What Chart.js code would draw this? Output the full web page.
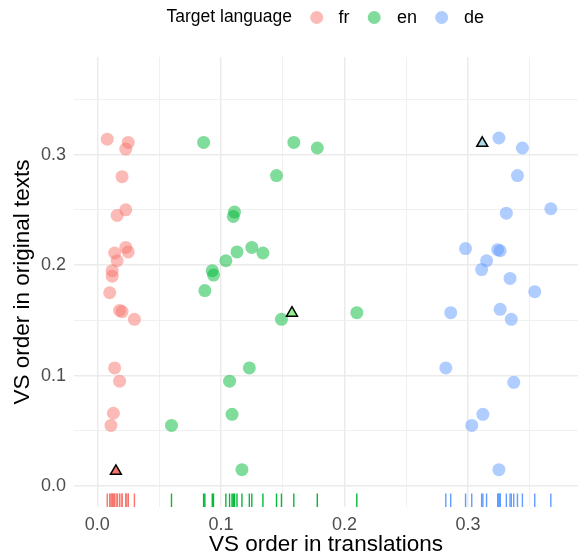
<!DOCTYPE html>
<html>
<head>
<meta charset="utf-8">
<script src="https://cdn.jsdelivr.net/npm/chart.js@4/dist/chart.umd.min.js"></script>
<style>
html, body { margin: 0; padding: 0; background: #ffffff; }
#wrap { width: 578px; height: 558px; }
</style>
</head>
<body>
<div id="wrap"><canvas id="c" width="578" height="558"></canvas></div>
<script>
// ---- data ----
const languages = ["fr", "en", "de"];
const legendTitle = "Target language";
const xTitle = "VS order in translations";
const yTitle = "VS order in original texts";
const tickLabels = ["0.0", "0.1", "0.2", "0.3"];

const frX = [0.008, 0.025, 0.023, 0.020, 0.023, 0.016, 0.023, 0.025, 0.014, 0.016, 0.012, 0.012, 0.010, 0.018, 0.020, 0.030, 0.014, 0.018, 0.013, 0.011];
const frY = [0.314, 0.311, 0.305, 0.280, 0.250, 0.245, 0.216, 0.212, 0.211, 0.204, 0.195, 0.190, 0.175, 0.159, 0.158, 0.151, 0.107, 0.095, 0.066, 0.055];

const enX = [0.086, 0.159, 0.178, 0.145, 0.111, 0.110, 0.113, 0.125, 0.134, 0.104, 0.093, 0.094, 0.087, 0.149, 0.210, 0.123, 0.107, 0.109, 0.060, 0.117];
const enY = [0.311, 0.311, 0.306, 0.281, 0.248, 0.244, 0.212, 0.216, 0.211, 0.204, 0.195, 0.191, 0.177, 0.151, 0.157, 0.107, 0.095, 0.065, 0.055, 0.015];

const deX = [0.325, 0.344, 0.340, 0.367, 0.331, 0.298, 0.324, 0.326, 0.315, 0.311, 0.334, 0.354, 0.286, 0.326, 0.335, 0.282, 0.337, 0.312, 0.303, 0.325];
const deY = [0.315, 0.306, 0.281, 0.251, 0.247, 0.215, 0.214, 0.213, 0.204, 0.196, 0.188, 0.176, 0.157, 0.160, 0.151, 0.107, 0.094, 0.065, 0.055, 0.015];

// highlighted (triangle) points per language
const markX = [0.015, 0.1575, 0.3115];
const markY = [0.0136, 0.1567, 0.3104];

// ---- styling ----
const colors = ["#F8766D", "#00BA38", "#619CFF"];
const pointFill = ["rgba(248,118,109,0.5)", "rgba(0,186,56,0.5)", "rgba(97,156,255,0.5)"];
const markFill = ["#F8766D", "#90EE90", "#ADD8E6"];
const FONT = "'Liberation Sans', Arial, Helvetica, sans-serif";

const X_MIN = -0.0189, X_MAX = 0.389;
const Y_MIN = -0.0188, Y_MAX = 0.3883;

const seriesX = [frX, enX, deX];
const seriesY = [frY, enY, deY];

const datasets = [];
// triangles (on top)
languages.forEach((lang, i) => {
  datasets.push({
    label: lang + " mark",
    data: [{x: markX[i], y: markY[i]}],
    pointStyle: 'triangle',
    pointRadius: 6.3,
    backgroundColor: markFill[i],
    borderColor: "#000000",
    borderWidth: 1.5,
    order: 0
  });
});
// points
languages.forEach((lang, i) => {
  datasets.push({
    label: lang,
    data: seriesX[i].map((x, k) => ({x: x, y: seriesY[i][k]})),
    pointStyle: 'circle',
    pointRadius: 6.5,
    backgroundColor: pointFill[i],
    borderWidth: 0,
    order: 1
  });
});

function isMajor(v) { return Math.abs(v * 10 - Math.round(v * 10)) < 1e-6; }
function majorLabel(v) {
  const idx = Math.round(v * 10);
  return (idx >= 0 && idx < tickLabels.length) ? tickLabels[idx] : "";
}

// marginal rug along the x axis, positioned through the chart's x scale
const rugPlugin = {
  id: 'rug',
  beforeDatasetsDraw(chart) {
    const ctx = chart.ctx;
    const xs = chart.scales.x;
    const area = chart.chartArea;
    const bottom = area.bottom;
    const top = bottom - (area.bottom - area.top) * 0.03;
    ctx.save();
    ctx.lineWidth = 1.4;
    languages.forEach((lang, i) => {
      ctx.strokeStyle = colors[i];
      seriesX[i].forEach(v => {
        const px = xs.getPixelForValue(v);
        ctx.beginPath();
        ctx.moveTo(px, top);
        ctx.lineTo(px, bottom);
        ctx.stroke();
      });
    });
    ctx.restore();
  }
};

const legendPlugin = {
  id: 'ggLegend',
  afterDraw(chart) {
    const ctx = chart.ctx;
    ctx.save();
    const cy = 17.5;
    ctx.textBaseline = 'middle';
    ctx.textAlign = 'left';
    ctx.fillStyle = '#000000';
    ctx.font = "17.5px " + FONT;
    ctx.fillText(legendTitle, 166.5, cy);
    const circX = [316.7, 374.2, 441.7];
    const textX = [338.5, 397, 464];
    languages.forEach((lang, i) => {
      ctx.beginPath();
      ctx.arc(circX[i], cy, 6.5, 0, Math.PI * 2);
      ctx.fillStyle = pointFill[i];
      ctx.fill();
      ctx.fillStyle = '#000000';
      ctx.font = "18px " + FONT;
      ctx.fillText(lang, textX[i], cy + 1);
    });
    ctx.restore();
  }
};

const gridColor = (c) => isMajor(c.tick.value) ? '#EBEBEB' : '#F0F0F0';
const gridWidth = (c) => isMajor(c.tick.value) ? 1.5 : 1;

new Chart(document.getElementById('c'), {
  type: 'scatter',
  data: { datasets: datasets },
  plugins: [rugPlugin, legendPlugin],
  options: {
    responsive: false,
    animation: false,
    events: [],
    layout: { autoPadding: false, padding: { top: 57, right: 0, left: 0, bottom: 0 } },
    plugins: { legend: { display: false }, tooltip: { enabled: false } },
    scales: {
      x: {
        type: 'linear',
        min: X_MIN, max: X_MAX,
        afterFit(s) { s.height = 51; s.paddingLeft = 0; s.paddingRight = 0; },
        border: { display: false },
        grid: { color: gridColor, lineWidth: gridWidth, drawTicks: false },
        ticks: {
          stepSize: 0.05, includeBounds: false, autoSkip: false, maxRotation: 0,
          padding: 7, color: '#4D4D4D', font: { family: FONT, size: 18 },
          callback: (v) => isMajor(v) ? majorLabel(v) : ''
        },
        title: {
          display: true, text: xTitle, color: '#000000',
          font: { family: FONT, size: 22.5 }, padding: { top: 0, bottom: 0 }
        }
      },
      y: {
        type: 'linear',
        min: Y_MIN, max: Y_MAX,
        afterFit(s) { s.width = 74; s.paddingTop = 0; s.paddingBottom = 0; },
        border: { display: false },
        grid: { color: gridColor, lineWidth: gridWidth, drawTicks: false },
        ticks: {
          stepSize: 0.05, includeBounds: false, autoSkip: false,
          padding: 8, color: '#4D4D4D', font: { family: FONT, size: 18 },
          callback: (v) => isMajor(v) ? majorLabel(v) : ''
        },
        title: {
          display: true, text: yTitle, color: '#000000',
          font: { family: FONT, size: 22.5 }, padding: { top: 9, bottom: 0 }
        }
      }
    }
  }
});
</script>
</body>
</html>
